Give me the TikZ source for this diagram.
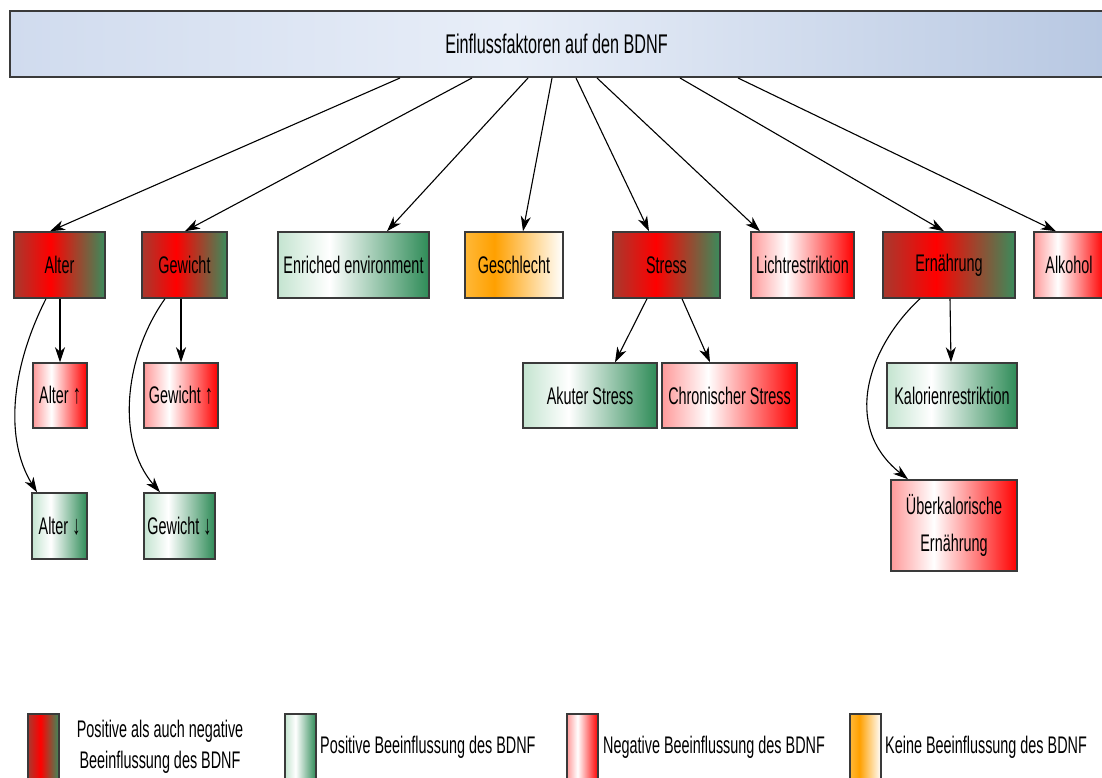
\documentclass[tikz,border=0pt]{standalone}
\usepackage{fontspec}
\setmainfont{Liberation Sans}[FakeStretch=0.6]
\usetikzlibrary{arrows.meta}

% fill colours
\definecolor{mixL}{HTML}{A8392E}
\definecolor{mixR}{HTML}{3A8C5C}
\definecolor{greenL}{HTML}{C4E4D0}
\definecolor{greenR}{HTML}{2E8B57}
\definecolor{redL}{HTML}{FF9A9A}
\definecolor{orL}{HTML}{FFB838}
\definecolor{orM}{HTML}{FFA000}
\definecolor{headL}{HTML}{D0DBEE}
\definecolor{headM}{HTML}{E8EEF8}
\definecolor{headR}{HTML}{B8C8E2}
\definecolor{boxline}{HTML}{3A3A3A}

% horizontal colour ramps (the box spans 25bp..75bp)
\pgfdeclarehorizontalshading{mixshade}{100bp}{color(0bp)=(mixL); color(25bp)=(mixL); color(45bp)=(red); color(75bp)=(mixR); color(100bp)=(mixR)}
\pgfdeclarehorizontalshading{posshade}{100bp}{color(0bp)=(greenL); color(25bp)=(greenL); color(42bp)=(white); color(75bp)=(greenR); color(100bp)=(greenR)}
\pgfdeclarehorizontalshading{negshade}{100bp}{color(0bp)=(redL); color(25bp)=(redL); color(42bp)=(white); color(75bp)=(red); color(100bp)=(red)}
\pgfdeclarehorizontalshading{neutshade}{100bp}{color(0bp)=(orL); color(25bp)=(orL); color(40bp)=(orM); color(75bp)=(white); color(100bp)=(white)}
\pgfdeclarehorizontalshading{headshade}{100bp}{color(0bp)=(headL); color(25bp)=(headL); color(48bp)=(headM); color(75bp)=(headR); color(100bp)=(headR)}

% tall arrow glyphs beside the labels
\newcommand{\upglyph}{{\fontsize{27}{28}\selectfont ↑}}
\newcommand{\downglyph}{{\fontsize{27}{28}\selectfont ↓}}

\tikzset{
  box/.style={draw=boxline, line width=1.5pt, inner sep=0pt, text=black,
    font=\fontsize{24}{28}\selectfont, minimum height=66pt},
  mixbox/.style={box, shade, shading=mixshade},
  posbox/.style={box, shade, shading=posshade},
  negbox/.style={box, shade, shading=negshade},
  neutbox/.style={box, shade, shading=neutshade},
  headbox/.style={box, line width=2pt, shade, shading=headshade,
    font=\fontsize{27}{30}\selectfont},
  swatch/.style={box, minimum width=31pt, minimum height=80pt, anchor=north},
  legtext/.style={inner sep=0pt, font=\fontsize{24}{31}\selectfont, text=black},
  arr/.style={-{Stealth[length=15pt,width=10pt,inset=4.5pt]}, line width=1.1pt, black}
}

\begin{document}
\begin{tikzpicture}[x=1pt,y=-1pt]
\useasboundingbox (0,0) rectangle (1102,778);
\clip (0,0) rectangle (1102,778);

% title bar
\node[headbox, minimum width=1093pt] (head) at (556.5,44) {Einflussfaktoren auf den BDNF};

% first row of factors
\node[mixbox,  minimum width=91pt]  (alter)     at (59.5,265)  {Alter};
\node[mixbox,  minimum width=85pt]  (gewicht)   at (184.5,265) {Gewicht};
\node[posbox,  minimum width=151pt] (enriched)  at (353.5,265) {Enriched environment};
\node[neutbox, minimum width=98pt]  (geschlecht) at (514,265)  {Geschlecht};
\node[mixbox,  minimum width=107pt] (stress)    at (666.5,265) {Stress};
\node[negbox,  minimum width=103pt] (licht)     at (802.5,265) {Lichtrestriktion};
\node[mixbox,  minimum width=132pt] (ernaehrung) at (949,265)  {Ernährung};
\node[negbox,  minimum width=70pt]  (alkohol)   at (1069,265)  {Alkohol};

% sub-factors
\node[negbox, minimum width=54pt, minimum height=65pt]  (alterup)   at (60,395.5)  {Alter \upglyph};
\node[posbox, minimum width=55pt]                       (alterdown) at (59.5,526)  {Alter \downglyph};
\node[negbox, minimum width=74pt, minimum height=65pt]  (gewup)     at (181,395.5) {Gewicht \upglyph};
\node[posbox, minimum width=71pt]                       (gewdown)   at (179.5,526) {Gewicht \downglyph};
\node[posbox, minimum width=134pt, minimum height=65pt] (akut)      at (590,395.5) {Akuter Stress};
\node[negbox, minimum width=135pt, minimum height=65pt] (chron)     at (729.5,395.5) {Chronischer Stress};
\node[posbox, minimum width=130pt, minimum height=65pt] (kalorien)  at (952,395.5) {Kalorienrestriktion};
\node[negbox, minimum width=126pt, minimum height=91pt, align=center,
      font=\fontsize{24}{37}\selectfont] (ueber) at (954,525.5) {Überkalorische\\Ernährung};

% connectors from the title bar
\draw[arr] ([xshift=-156.5pt]head.south) -- ([xshift=-9.5pt]alter.north);
\draw[arr] ([xshift=-84.5pt]head.south)  -- ([xshift=0.5pt]gewicht.north);
\draw[arr] ([xshift=-28.5pt]head.south)  -- ([xshift=33.5pt]enriched.north);
\draw[arr] ([xshift=-4.5pt]head.south)   -- ([xshift=9pt]geschlecht.north);
\draw[arr] ([xshift=19.5pt]head.south)   -- ([xshift=-17.5pt]stress.north);
\draw[arr] ([xshift=40.5pt]head.south)   -- ([xshift=-42.5pt]licht.north);
\draw[arr] ([xshift=123.5pt]head.south)  -- ([xshift=-5pt]ernaehrung.north);
\draw[arr] ([xshift=181.5pt]head.south)  -- ([xshift=-13pt]alkohol.north);

% connectors to the sub-factors
\draw[arr] (alter.south -| alterup.north) -- (alterup.north);
\draw[arr] ([xshift=-13.5pt]alter.south) .. controls (10,370) and (5,440) .. ([xshift=-22.5pt]alterdown.north);
\draw[arr] (gewicht.south -| gewup.north) -- (gewup.north);
\draw[arr] ([xshift=-19.5pt]gewicht.south) .. controls (125,355) and (115,440) .. ([xshift=-19.5pt]gewdown.north);
\draw[arr] ([xshift=-19.5pt]stress.south) -- ([xshift=25pt]akut.north);
\draw[arr] ([xshift=15.5pt]stress.south) -- ([xshift=-19.5pt]chron.north);
\draw[arr] ([xshift=1pt]ernaehrung.south) -- ([xshift=-1pt]kalorien.north);
\draw[arr] ([xshift=-29pt]ernaehrung.south) .. controls (870,345) and (840,425) .. ([xshift=-46pt]ueber.north);

% legend
\node[swatch, shade, shading=mixshade]  (lg1) at (43.5,713)  {};
\node[swatch, shade, shading=posshade]  (lg2) at (300.5,713) {};
\node[swatch, shade, shading=negshade]  (lg3) at (582.5,713) {};
\node[swatch, shade, shading=neutshade] (lg4) at (865.5,713) {};
\node[legtext, align=center] (lt1) at (160,747) {Positive als auch negative\\Beeinflussung des BDNF};
\node[legtext, anchor=west] (lt2) at (320,747) {Positive Beeinflussung des BDNF};
\node[legtext, anchor=west] (lt3) at (603,747) {Negative Beeinflussung des BDNF};
\node[legtext, anchor=west] (lt4) at (885,747) {Keine Beeinflussung des BDNF};
\end{tikzpicture}
\end{document}
